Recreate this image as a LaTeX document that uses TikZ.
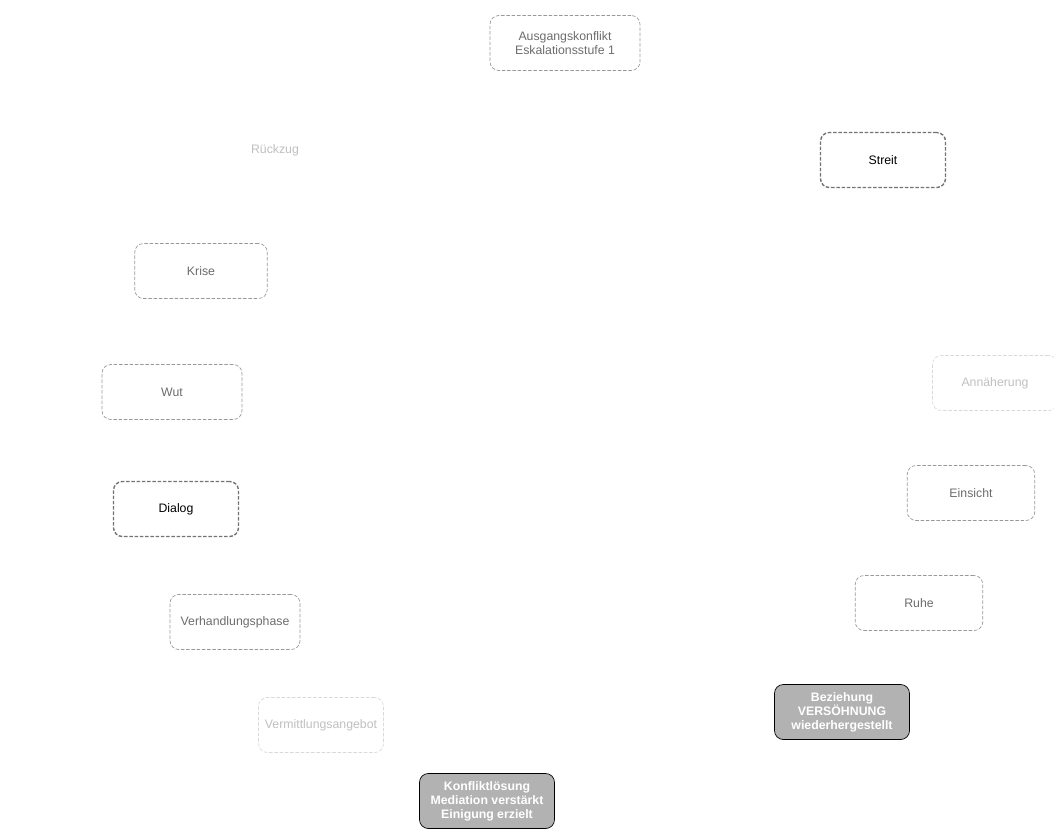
\documentclass[tikz,border=0pt]{standalone}
\usepackage{fontspec}
\setmainfont{Liberation Sans}
\usepackage{tikz}
\usetikzlibrary{positioning}

\begin{document}
\begin{tikzpicture}[
    x=0.02cm, y=-0.02cm,
    font=\scriptsize,
    stage/.style={
        draw=gray!80,
        dash pattern=on 2pt off 1pt,
        rounded corners=5pt,
        align=center,
        minimum width=2.5cm,
        minimum height=1.1cm,
        inner sep=3pt,
        text=gray!85!black
    },
    faint/.style={stage, draw=gray!30, text=gray!50},
    strong/.style={stage, draw=gray!90!black, thick, text=black},
    result/.style={
        draw=black,
        rounded corners=5pt,
        fill=gray!60,
        align=center,
        minimum width=2.7cm,
        minimum height=1.1cm,
        inner sep=3pt,
        text=white,
        font=\scriptsize\bfseries
    }
]
\useasboundingbox (0,0) rectangle (1054,829);

\node[stage, minimum width=3cm] (start) at (565,43) {Ausgangskonflikt\\Eskalationsstufe 1};
\node[strong] (streit) at (883,160) {Streit};
\node[faint, draw=white] (rueckzug) at (275,150) {Rückzug};
\node[stage, minimum width=2.65cm] (krise) at (201,271) {Krise};
\node[stage, minimum width=2.8cm] (wut) at (172,392) {Wut};
\node[strong] (dialog) at (176,509) {Dialog};
\node[stage, minimum width=2.6cm] (verhandlung) at (235,622) {Verhandlungsphase};
\node[faint] (angebot) at (321,725) {Vermittlungsangebot};
\node[result] (loesung) at (487,801) {Konfliktlösung\\Mediation verstärkt\\Einigung erzielt};
\node[result] (beziehung) at (842,712) {Beziehung\\VERSÖHNUNG\\wiederhergestellt};
\node[stage, minimum width=2.55cm] (ruhe) at (919,603) {Ruhe};
\node[stage, minimum width=2.55cm] (einsicht) at (971,493) {Einsicht};
\node[faint] (annaeherung) at (995,383) {Annäherung};

\end{tikzpicture}
\end{document}
